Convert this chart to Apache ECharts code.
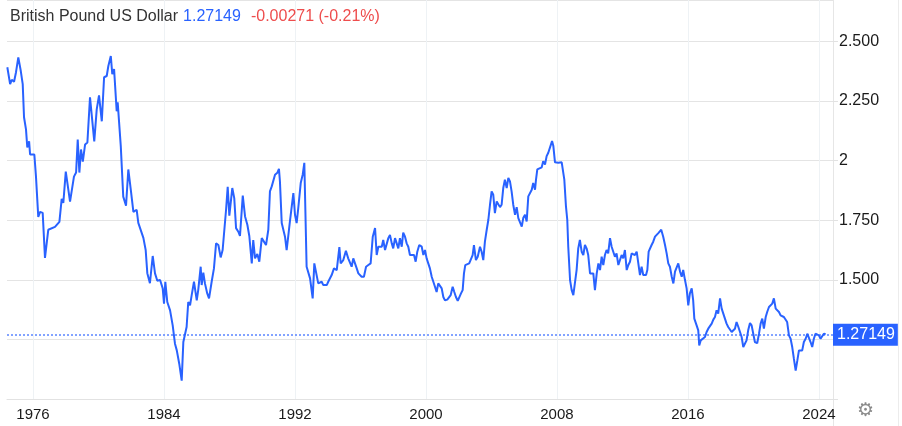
<!DOCTYPE html>
<html>
<head>
<meta charset="utf-8">
<script src="https://cdn.jsdelivr.net/npm/echarts@6/dist/echarts.min.js"></script>
<style>
html,body{margin:0;padding:0;background:#fff;}
#chart{width:902px;height:426px;}
</style>
</head>
<body>
<div id="chart"></div>
<script>
// Decimal year of each observation
const years = [
1974.43,1974.60,1974.70,1974.84,1974.96,1975.10,1975.25,1975.37,1975.45,1975.57,1975.65,1975.76,1975.82,
1976.08,1976.18,1976.32,1976.43,1976.59,1976.73,1976.93,1977.34,1977.45,1977.61,1977.75,1977.85,
1978.00,1978.06,1978.26,1978.36,1978.50,1978.63,1978.73,1978.83,1978.93,1979.04,1979.18,1979.32,
1979.48,1979.58,1979.74,1979.89,1980.03,1980.09,1980.20,1980.34,1980.50,1980.60,1980.75,1980.84,
1980.95,1981.03,1981.11,1981.17,1981.36,1981.51,1981.68,1981.82,1981.97,1982.13,1982.33,1982.43,
1982.53,1982.74,1982.88,1982.98,1983.14,
1983.31,1983.45,1983.59,1983.76,1983.92,1984.00,1984.08,1984.20,1984.37,1984.53,1984.67,1984.78,
1984.93,1985.08,1985.18,1985.28,1985.38,1985.48,1985.59,1985.69,1985.83,1986.00,1986.09,1986.24,
1986.30,1986.40,1986.50,1986.64,1986.75,1986.91,1987.05,1987.18,1987.32,1987.46,1987.58,1987.66,
1987.79,1987.89,1987.99,1988.07,1988.17,1988.29,1988.40,1988.54,1988.64,1988.81,1988.95,1989.09,
1989.21,1989.36,1989.45,1989.56,1989.70,1989.82,1989.97,1990.06,1990.23,1990.37,1990.47,1990.58,
1990.67,1990.78,1990.92,1991.02,1991.08,1991.19,1991.29,1991.39,1991.49,1991.59,1991.69,1991.80,
1991.90,1992.00,1992.10,1992.20,1992.35,1992.47,1992.57,1992.71,1992.92,1993.08,1993.18,1993.28,
1993.42,1993.63,1993.73,1993.83,1993.94,1994.03,1994.14,1994.24,1994.38,1994.55,1994.71,1994.79,
1994.95,1995.11,1995.25,
1995.36,1995.46,1995.56,1995.66,1995.77,1995.87,1995.97,1996.07,1996.21,1996.34,1996.48,1996.62,
1996.75,1996.89,1996.99,1997.09,1997.19,1997.30,1997.39,1997.50,1997.60,1997.70,1997.80,1997.91,
1998.00,1998.11,1998.21,1998.31,1998.41,1998.52,1998.61,1998.72,1998.82,1998.92,1999.02,1999.13,
1999.27,1999.37,1999.47,1999.59,1999.74,1999.84,1999.94,2000.04,2000.14,2000.24,2000.35,2000.45,
2000.55,2000.65,2000.75,2000.86,2000.96,2001.06,2001.16,2001.30,2001.42,2001.51,2001.63,2001.73,
2001.83,2001.94,2002.03,2002.14,2002.24,2002.32,2002.40,2002.52,2002.64,2002.75,2002.85,2002.93,
2003.05,2003.16,2003.30,
2003.40,2003.50,2003.60,2003.71,2003.81,2003.91,2004.01,2004.11,2004.21,2004.32,2004.42,2004.52,
2004.62,2004.72,2004.82,2004.93,2005.03,2005.13,2005.23,2005.33,2005.44,2005.54,2005.64,2005.74,
2005.85,2005.94,2006.05,2006.15,2006.25,2006.35,2006.46,2006.55,2006.66,2006.72,2006.80,2006.92,
2007.07,2007.16,2007.27,2007.37,2007.47,2007.57,2007.70,2007.78,2007.88,2008.08,2008.18,2008.29,
2008.39,2008.45,2008.55,2008.63,2008.69,2008.80,2008.90,2009.00,2009.10,2009.20,2009.30,2009.40,
2009.51,2009.61,2009.71,2009.81,2009.91,2010.02,2010.12,2010.22,2010.32,2010.43,2010.53,2010.63,
2010.73,2010.83,2010.93,2011.03,2011.13,2011.24,2011.34,2011.44,2011.54,2011.64,2011.75,2011.85,
2011.95,2012.05,2012.15,2012.26,2012.36,2012.46,2012.56,2012.66,2012.76,2012.87,2012.97,2013.07,
2013.17,2013.27,2013.44,2013.52,2013.60,2013.72,2013.78,2013.88,2013.99,2014.09,2014.19,2014.29,
2014.37,2014.49,2014.60,2014.70,2014.80,2014.90,2015.01,2015.11,2015.21,2015.31,2015.41,2015.52,
2015.62,2015.71,2015.82,2015.92,2016.02,2016.12,2016.23,2016.32,2016.39,2016.53,2016.63,2016.69,
2016.78,2016.90,2017.04,2017.14,2017.24,2017.34,2017.45,2017.55,2017.65,2017.75,2017.85,2017.96,
2018.06,2018.16,2018.26,2018.36,2018.46,2018.57,2018.67,2018.77,2018.87,2018.97,2019.08,2019.18,
2019.28,2019.38,2019.48,2019.58,2019.68,2019.79,2019.89,2019.99,2020.09,2020.23,2020.34,2020.44,
2020.54,2020.64,2020.75,2020.84,2020.95,2021.05,2021.15,2021.25,2021.36,2021.46,2021.56,2021.66,
2021.76,2021.86,2021.96,2022.06,2022.17,2022.27,2022.37,2022.47,2022.58,2022.68,2022.78,2022.88,
2022.98,2023.08,2023.19,2023.29,2023.39,2023.49,2023.59,2023.69,2023.79,2023.89,2024.00,2024.10,
2024.19,2024.30,2024.41
];
// GBP/USD rate at each observation
const rates = [
2.392,2.321,2.339,2.331,2.371,2.433,2.377,2.321,2.182,2.131,2.055,2.081,2.026,
2.026,1.933,1.764,1.785,1.781,1.592,1.710,1.722,1.722,1.743,1.840,1.823,
1.954,1.950,1.828,1.828,1.933,1.950,2.089,1.950,2.047,1.996,2.068,2.076,
2.266,2.258,2.081,2.215,2.274,2.279,2.165,2.350,2.355,2.397,2.439,2.363,
2.384,2.376,2.207,2.245,2.060,1.849,1.811,1.963,1.878,1.785,1.794,1.739,
1.731,1.676,1.625,1.528,1.486,
1.600,1.527,1.496,1.499,1.464,1.400,1.492,1.407,1.372,1.309,1.232,1.204,
1.148,1.077,1.239,1.246,1.302,1.407,1.393,1.436,1.492,1.414,1.457,1.555,
1.478,1.530,1.485,1.443,1.422,1.492,1.548,1.653,1.646,1.594,1.625,1.632,
1.794,1.890,1.769,1.773,1.885,1.843,1.717,1.702,1.684,1.853,1.766,1.731,
1.684,1.569,1.667,1.590,1.608,1.576,1.675,1.679,1.646,1.710,1.871,1.892,
1.885,1.941,1.949,1.966,1.913,1.738,1.731,1.681,1.625,1.684,1.745,1.745,
1.864,1.773,1.738,1.801,1.906,1.941,1.991,1.555,1.506,1.422,1.569,1.569,
1.485,1.492,1.478,1.485,1.478,1.492,1.485,1.520,1.548,1.541,1.637,1.569,
1.583,1.622,1.590,
1.597,1.555,1.590,1.583,1.548,1.527,1.534,1.513,1.513,1.555,1.562,1.569,
1.681,1.717,1.604,1.639,1.632,1.639,1.667,1.625,1.618,1.675,1.688,1.653,
1.632,1.675,1.667,1.632,1.675,1.639,1.698,1.681,1.653,1.639,1.604,1.611,
1.604,1.576,1.618,1.646,1.639,1.604,1.625,1.590,1.569,1.548,1.513,1.520,
1.471,1.449,1.485,1.492,1.464,1.428,1.414,1.417,1.414,1.436,1.471,1.449,
1.428,1.412,1.414,1.443,1.457,1.527,1.562,1.555,1.569,1.562,1.604,1.646,
1.583,1.597,1.639,
1.618,1.583,1.660,1.710,1.752,1.815,1.871,1.857,1.780,1.829,1.822,1.805,
1.815,1.885,1.920,1.885,1.928,1.913,1.871,1.815,1.773,1.805,1.759,1.766,
1.723,1.759,1.773,1.745,1.850,1.857,1.878,1.906,1.878,1.920,1.963,1.970,
1.972,1.998,1.984,2.019,2.033,2.040,2.082,2.061,1.993,1.991,1.991,1.993,
1.991,1.920,1.808,1.752,1.639,1.499,1.457,1.436,1.443,1.541,1.632,1.667,
1.618,1.604,1.646,1.632,1.604,1.527,1.520,1.527,1.457,1.527,1.569,1.541,
1.597,1.562,1.604,1.625,1.611,1.675,1.639,1.646,1.597,1.611,1.562,1.583,
1.604,1.590,1.625,1.541,1.562,1.576,1.611,1.618,1.604,1.618,1.611,1.520,
1.555,1.520,1.520,1.541,1.618,1.625,1.646,1.660,1.681,1.675,1.696,1.702,
1.710,1.681,1.646,1.611,1.569,1.555,1.513,1.485,1.534,1.527,1.569,1.534,
1.513,1.541,1.499,1.464,1.393,1.443,1.464,1.414,1.337,1.309,1.288,1.225,
1.246,1.239,1.260,1.281,1.295,1.302,1.316,1.333,1.344,1.372,1.358,1.422,
1.379,1.386,1.337,1.316,1.302,1.302,1.281,1.274,1.295,1.323,1.302,1.281,
1.260,1.218,1.218,1.246,1.288,1.319,1.309,1.274,1.239,1.234,1.274,1.316,
1.337,1.295,1.344,1.365,1.386,1.379,1.400,1.422,1.379,1.386,1.365,1.351,
1.344,1.344,1.351,1.323,1.267,1.253,1.218,1.169,1.119,1.161,1.204,1.211,
1.204,1.239,1.253,1.274,1.281,1.239,1.218,1.253,1.274,1.267,1.267,1.253,
1.260,1.274,1.27149
];
const xTickYears = [1976, 1984, 1992, 2000, 2008, 2016, 2024];
const hiddenYLabels = [1, 1.25];
const lastPrice = 1.27149;
const titleName = 'British Pound US Dollar';
const titlePrice = '1.27149';
const titleChange = '-0.00271 (-0.21%)';

const FONT = "'Helvetica Neue', Helvetica, Arial, 'Liberation Sans', sans-serif";
const chart = echarts.init(document.getElementById('chart'), null, {renderer: 'canvas'});

const option = {
  animation: false,
  backgroundColor: '#ffffff',
  textStyle: {fontFamily: FONT},
  title: {
    left: 5, top: 3,
    text: '{a|' + titleName + '} {b|' + titlePrice + '}  {c|' + titleChange + '}',
    textStyle: {
      fontFamily: FONT,
      fontWeight: 'normal',
      rich: {
        a: {fontSize: 16, color: '#333333', fontFamily: FONT, fontWeight: 'normal'},
        b: {fontSize: 16, color: '#2962ff', fontFamily: FONT, fontWeight: 'normal'},
        c: {fontSize: 16, color: '#ee4d4d', fontFamily: FONT, fontWeight: 'normal'}
      }
    }
  },
  grid: {left: 7, right: 69, top: 0, bottom: 27, containLabel: false},
  xAxis: {
    type: 'value',
    min: 1974.41,
    max: 2024.86,
    axisLine: {show: true, lineStyle: {color: '#e2e2e2', width: 1}},
    axisTick: {show: false, customValues: xTickYears},
    splitLine: {show: true, lineStyle: {color: '#eef2f5', width: 1}},
    axisLabel: {
      customValues: xTickYears,
      color: '#1a1a1a', fontSize: 15, fontFamily: FONT, margin: 8,
      formatter: v => String(Math.round(v))
    }
  },
  yAxis: {
    type: 'value',
    position: 'right',
    min: 1,
    max: 2.674,
    interval: 0.25,
    axisLine: {show: false},
    axisTick: {show: true, length: 5, lineStyle: {color: '#e2e2e2'}},
    splitLine: {show: true, lineStyle: {color: '#e4e4e4', width: 1}},
    axisLabel: {
      color: '#1a1a1a', fontSize: 16, fontFamily: FONT, margin: 6,
      showMaxLabel: false,
      formatter: v => {
        if (hiddenYLabels.some(h => Math.abs(h - v) < 1e-6)) return '';
        if (v > 2.6) return '';
        return Math.abs(v - 2) < 1e-6 ? '2' : v.toFixed(3);
      }
    }
  },
  graphic: [
    {type: 'line', shape: {x1: 833.5, y1: 0, x2: 833.5, y2: 426}, style: {stroke: '#e6e6e6', lineWidth: 1}, silent: true},
    {type: 'line', shape: {x1: 898.5, y1: 0, x2: 898.5, y2: 426}, style: {stroke: '#ececec', lineWidth: 1}, silent: true},
    {type: 'text', left: 857, top: 402, style: {text: '\u2699', font: '19px "DejaVu Sans", sans-serif', fill: '#8a8a8a'}, silent: true}
  ],
  series: [{
    type: 'line',
    data: years.map((y, i) => [y, rates[i]]),
    showSymbol: false,
    symbol: 'none',
    lineStyle: {color: '#2962ff', width: 2},
    itemStyle: {color: '#2962ff'},
    clip: false,
    z: 5,
    markLine: {
      silent: true,
      symbol: ['none', 'none'],
      animation: false,
      data: [{yAxis: lastPrice}],
      lineStyle: {color: '#5b85ff', type: [2, 2], width: 1.5, opacity: 1},
      label: {
        show: true,
        position: 'end',
        distance: 0,
        formatter: () => lastPrice.toFixed(5),
        color: '#ffffff',
        backgroundColor: '#2962ff',
        opacity: 1,
        fontSize: 16,
        lineHeight: 16,
        fontFamily: FONT,
        padding: [3, 3, 3, 4]
      }
    }
  }]
};
chart.setOption(option);
</script>
</body>
</html>
